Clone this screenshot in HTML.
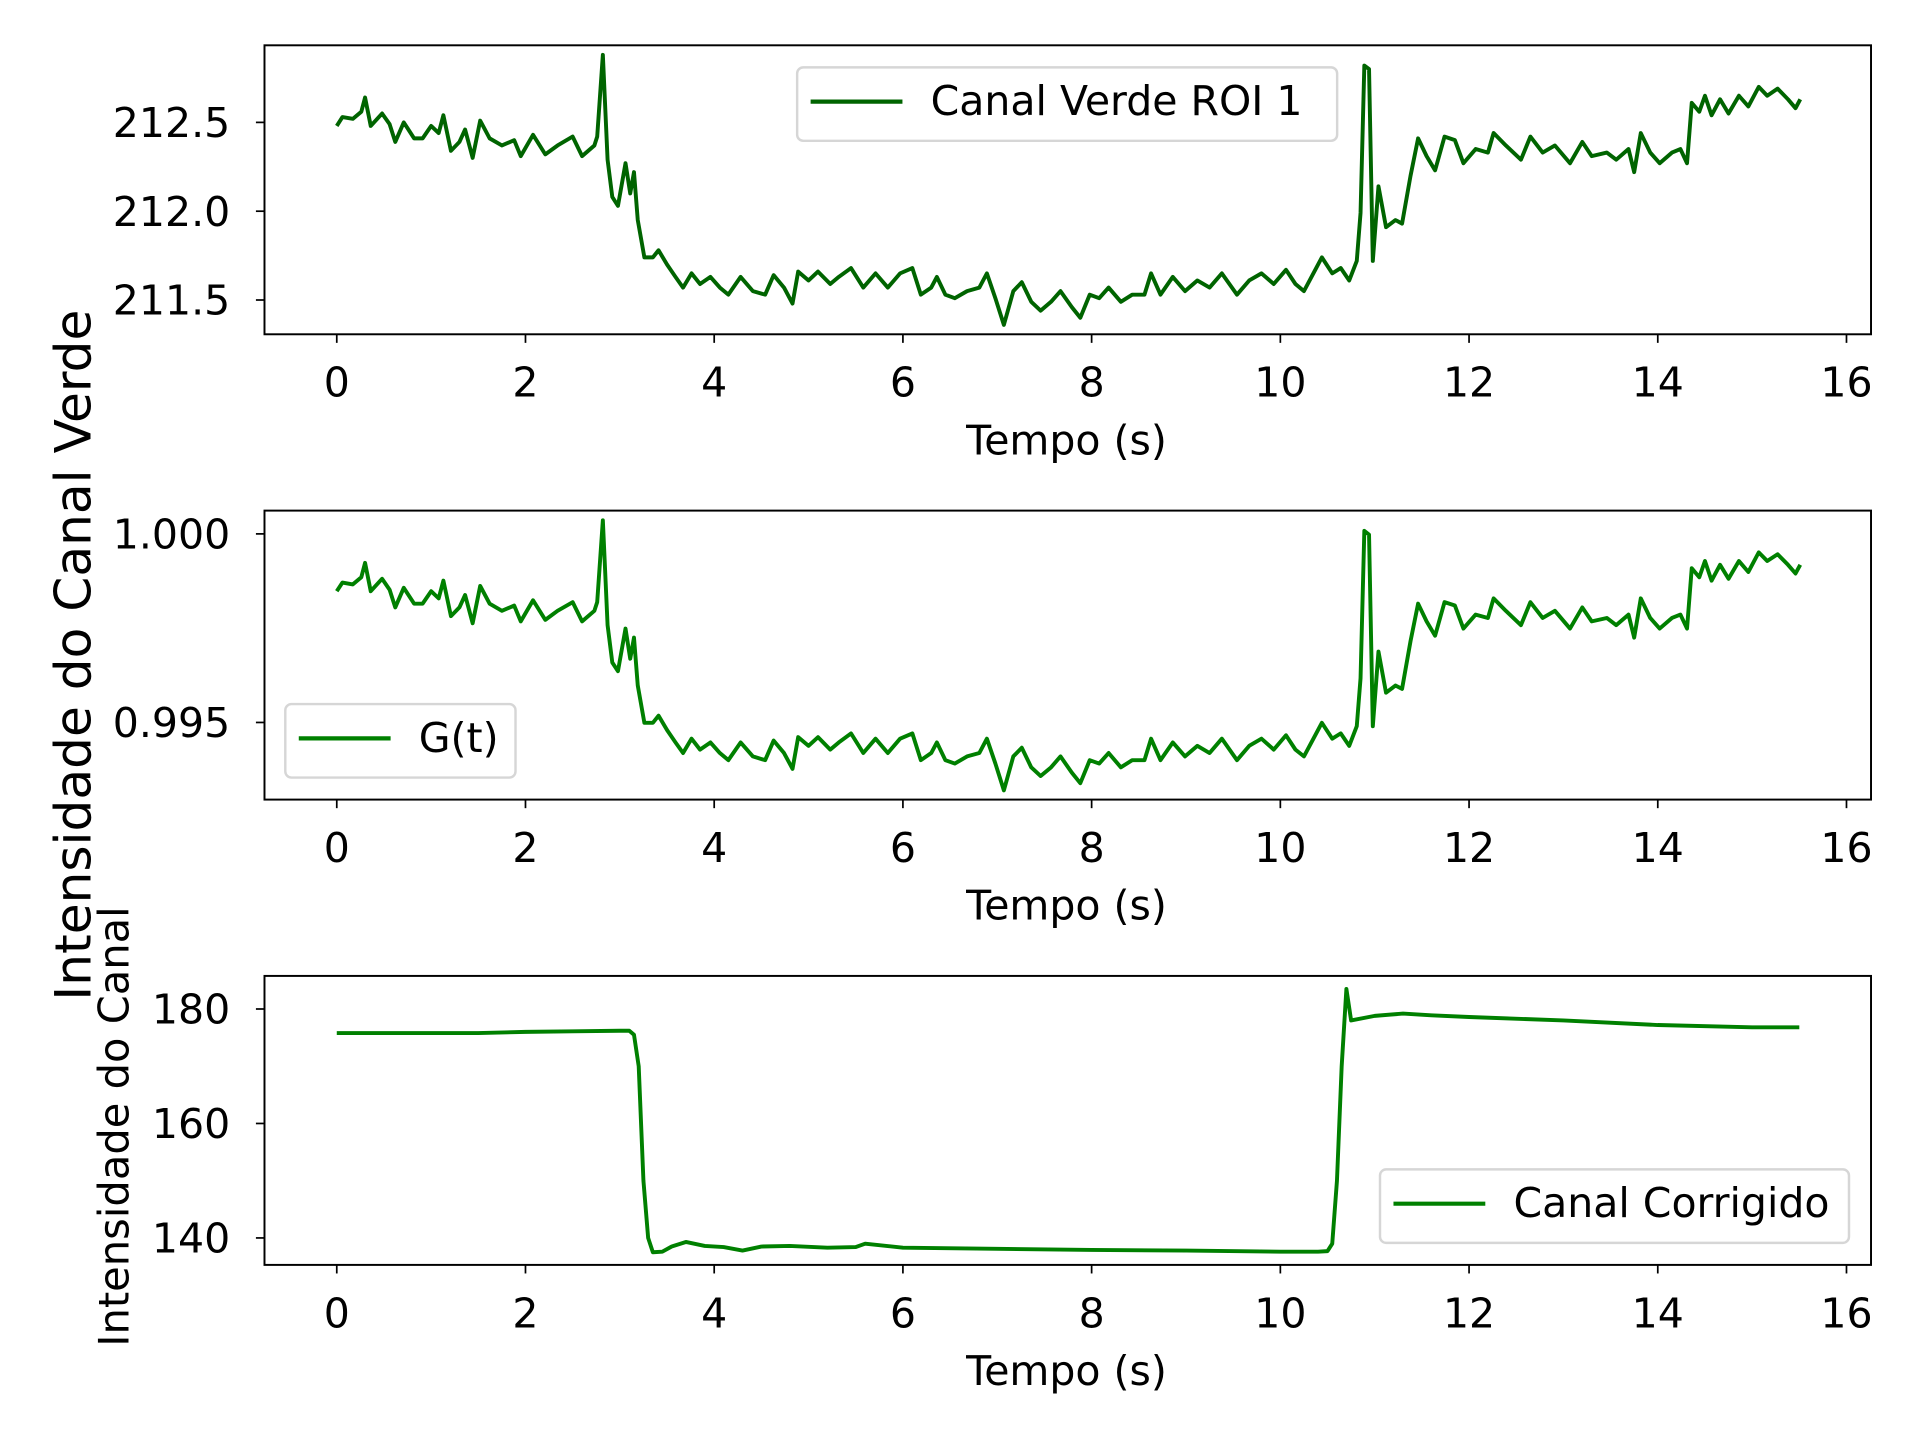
<!DOCTYPE html>
<html><head><meta charset="utf-8"><style>
html,body{margin:0;padding:0;background:#fff;}
svg{display:block;font-family:"DejaVu Sans","Liberation Sans",sans-serif;}
</style></head><body>
<svg id="fig" width="1920" height="1440" viewBox="0 0 1568 1176" preserveAspectRatio="xMinYMin meet" xmlns="http://www.w3.org/2000/svg">
<rect width="1568" height="1176" fill="#fff"/>
<text transform="translate(74,535) rotate(-90)" text-anchor="middle" font-size="41">Intensidade do Canal Verde</text>
<text transform="translate(105,920) rotate(-90)" text-anchor="middle" font-size="34">Intensidade do Canal</text>
</svg>
<script>
const greenT=[0,.06,.17,.26,.30,.36,.48,.56,.62,.71,.82,.91,1.0,1.08,1.13,1.21,1.30,1.36,1.44,1.52,1.62,1.75,1.88,1.95,2.08,2.21,2.34,2.50,2.60,2.73,2.76,2.82,2.87,2.92,2.98,3.06,3.11,3.15,3.19,3.26,3.35,3.41,3.50,3.59,3.67,3.76,3.85,3.96,4.06,4.15,4.28,4.41,4.54,4.63,4.74,4.83,4.89,5.0,5.10,5.23,5.32,5.45,5.58,5.71,5.84,5.97,6.10,6.19,6.30,6.36,6.45,6.55,6.68,6.81,6.89,6.98,7.07,7.17,7.26,7.36,7.46,7.57,7.67,7.79,7.88,7.98,8.08,8.18,8.31,8.43,8.56,8.63,8.73,8.86,8.99,9.12,9.25,9.38,9.54,9.67,9.80,9.93,10.06,10.16,10.25,10.38,10.44,10.55,10.64,10.73,10.81,10.85,10.89,10.94,10.98,11.04,11.12,11.22,11.29,11.38,11.46,11.55,11.64,11.74,11.85,11.94,12.07,12.20,12.26,12.39,12.55,12.65,12.78,12.91,13.07,13.20,13.30,13.46,13.56,13.69,13.75,13.82,13.92,14.02,14.15,14.24,14.31,14.36,14.44,14.50,14.57,14.66,14.75,14.86,14.96,15.07,15.16,15.27,15.38,15.46,15.51];
const greenV=[212.48,212.53,212.52,212.56,212.64,212.48,212.55,212.49,212.39,212.50,212.41,212.41,212.48,212.44,212.54,212.34,212.39,212.46,212.30,212.51,212.41,212.37,212.40,212.31,212.43,212.32,212.37,212.42,212.31,212.37,212.42,212.88,212.29,212.08,212.03,212.27,212.10,212.22,211.95,211.74,211.74,211.78,211.70,211.63,211.57,211.65,211.59,211.63,211.57,211.53,211.63,211.55,211.53,211.64,211.57,211.48,211.66,211.61,211.66,211.59,211.63,211.68,211.57,211.65,211.57,211.65,211.68,211.53,211.57,211.63,211.53,211.51,211.55,211.57,211.65,211.51,211.36,211.55,211.60,211.49,211.44,211.49,211.55,211.46,211.40,211.53,211.51,211.57,211.49,211.53,211.53,211.65,211.53,211.63,211.55,211.61,211.57,211.65,211.53,211.61,211.65,211.59,211.67,211.59,211.55,211.68,211.74,211.65,211.68,211.61,211.72,211.99,212.82,212.80,211.72,212.14,211.91,211.95,211.93,212.20,212.41,212.31,212.23,212.42,212.40,212.27,212.35,212.33,212.44,212.37,212.29,212.42,212.33,212.37,212.27,212.39,212.31,212.33,212.29,212.35,212.22,212.44,212.33,212.27,212.33,212.35,212.27,212.61,212.56,212.65,212.54,212.63,212.55,212.65,212.59,212.70,212.65,212.69,212.63,212.58,212.63];
const gT=greenT.slice();
const gV=[0.99848,0.99871,0.99866,0.99885,0.99923,0.99848,0.99881,0.99852,0.99805,0.99857,0.99815,0.99815,0.99848,0.99829,0.99876,0.99782,0.99805,0.99838,0.99763,0.99862,0.99815,0.99796,0.99810,0.99768,0.99824,0.99772,0.99796,0.99819,0.99768,0.99796,0.99819,1.00036,0.99758,0.99659,0.99636,0.99749,0.99669,0.99725,0.99598,0.99499,0.99499,0.99518,0.99480,0.99447,0.99419,0.99457,0.99428,0.99447,0.99419,0.99400,0.99447,0.99410,0.99400,0.99452,0.99419,0.99377,0.99461,0.99438,0.99461,0.99428,0.99447,0.99471,0.99419,0.99457,0.99419,0.99457,0.99471,0.99400,0.99419,0.99447,0.99400,0.99391,0.99410,0.99419,0.99457,0.99391,0.99320,0.99410,0.99433,0.99381,0.99358,0.99381,0.99410,0.99367,0.99339,0.99400,0.99391,0.99419,0.99381,0.99400,0.99400,0.99457,0.99400,0.99447,0.99410,0.99438,0.99419,0.99457,0.99400,0.99438,0.99457,0.99428,0.99466,0.99428,0.99410,0.99471,0.99499,0.99457,0.99471,0.99438,0.99490,0.99617,1.00008,0.99998,0.99490,0.99688,0.99579,0.99598,0.99589,0.99716,0.99815,0.99768,0.99730,0.99819,0.99810,0.99749,0.99786,0.99777,0.99829,0.99796,0.99758,0.99819,0.99777,0.99796,0.99749,0.99805,0.99768,0.99777,0.99758,0.99786,0.99725,0.99829,0.99777,0.99749,0.99777,0.99786,0.99749,0.99909,0.99885,0.99928,0.99876,0.99918,0.99881,0.99928,0.99899,0.99951,0.99928,0.99946,0.99918,0.99895,0.99918];
const corrT=[0,0.5,1.0,1.5,2.0,2.5,3.0,3.1,3.15,3.2,3.25,3.3,3.35,3.45,3.55,3.7,3.9,4.1,4.3,4.5,4.8,5.2,5.5,5.6,6.0,7.0,8.0,9.0,10.0,10.4,10.5,10.55,10.6,10.65,10.7,10.75,11.0,11.3,11.6,12.0,13.0,14.0,15.0,15.5];
const corrV=[175.8,175.8,175.8,175.8,176.0,176.1,176.2,176.2,175.5,170,150,140,137.5,137.6,138.5,139.3,138.6,138.4,137.8,138.5,138.6,138.3,138.4,139.0,138.3,138.1,137.9,137.8,137.6,137.6,137.7,139,150,170,183.5,178,178.8,179.2,178.9,178.6,178.0,177.2,176.8,176.8];
const xTicks=[0,2,4,6,8,10,12,14,16];
const p1Ticks=[211.5,212.0,212.5], p1Labels=["211.5","212.0","212.5"];
const p2Ticks=[0.995,1.000], p2Labels=["0.995","1.000"];
const p3Ticks=[140,160,180], p3Labels=["140","160","180"];

const NS="http://www.w3.org/2000/svg";
const svg=document.getElementById('fig');
function mk(tag,attrs,parent){const e=document.createElementNS(NS,tag);for(const k in attrs)e.setAttribute(k,attrs[k]);(parent||svg).appendChild(e);return e;}
const L=216,R=1528,X0=-0.766,X1=16.26;
const xs=t=>L+(t-X0)/(X1-X0)*(R-L);

function panel(name,top,bot,y0,y1,ticks,labels,T,V,color,legText,leg){
  const g=mk('g',{});
  
  
  const ys=v=>bot-(v-y0)/(y1-y0)*(bot-top);
  let d='';T.forEach((t,i)=>{d+=(i?'L':'M')+xs(t).toFixed(2)+','+ys(V[i]).toFixed(2);});
  const clip=mk('clipPath',{id:name+'-clip'},g);mk('rect',{x:L,y:top,width:R-L,height:bot-top},clip);
  const line=mk('path',{d:d,fill:'none',stroke:color,'stroke-width':3.2,'stroke-linejoin':'round','clip-path':'url(#'+name+'-clip)'},g);
  
  
  const frame=mk('rect',{x:L,y:top,width:R-L,height:bot-top,fill:'none',stroke:'#000','stroke-width':1.6},g);
  
  
  xTicks.forEach(t=>{
    const x=xs(t);
    mk('line',{x1:x,x2:x,y1:bot,y2:bot+7,stroke:'#000','stroke-width':1.4},g);
    const tx=mk('text',{x:x,y:bot+51,'text-anchor':'middle','font-size':33.5},g);tx.textContent=t;
    
    
  });
  ticks.forEach((v,i)=>{
    const y=ys(v);
    mk('line',{x1:L-7,x2:L,y1:y,y2:y,stroke:'#000','stroke-width':1.4},g);
    const tx=mk('text',{x:L-28,y:y+12,'text-anchor':'end','font-size':33.5},g);tx.textContent=labels[i];
    
    
  });
  const xl=mk('text',{x:871,y:bot+98,'text-anchor':'middle','font-size':33.5},g);xl.textContent='Tempo (s)';
  
  
  const lg=mk('g',{},g);
  
  
  mk('rect',{x:leg[0],y:leg[1],width:leg[2],height:60,rx:5,fill:'#fff','fill-opacity':0.8,stroke:'#d6d6d6','stroke-width':2},lg);
  mk('line',{x1:leg[0]+11,x2:leg[0]+86,y1:leg[1]+28,y2:leg[1]+28,stroke:color,'stroke-width':3.4},lg);
  const lt=mk('text',{x:leg[0]+109,y:leg[1]+39,'font-size':33.5},lg);lt.textContent=legText;
  
  
}
panel('green-channel',37,273,211.307,212.934,p1Ticks,p1Labels,greenT,greenV,'#006400','Canal Verde ROI 1',[651,55,441]);
panel('g-of-t',417,653,0.992955,1.000617,p2Ticks,p2Labels,gT,gV,'#008000','G(t)',[233,575,188]);
panel('corrected-channel',797,1033,135.29,185.78,p3Ticks,p3Labels,corrT,corrV,'#008000','Canal Corrigido',[1127,955,383]);
</script>
</body></html>
